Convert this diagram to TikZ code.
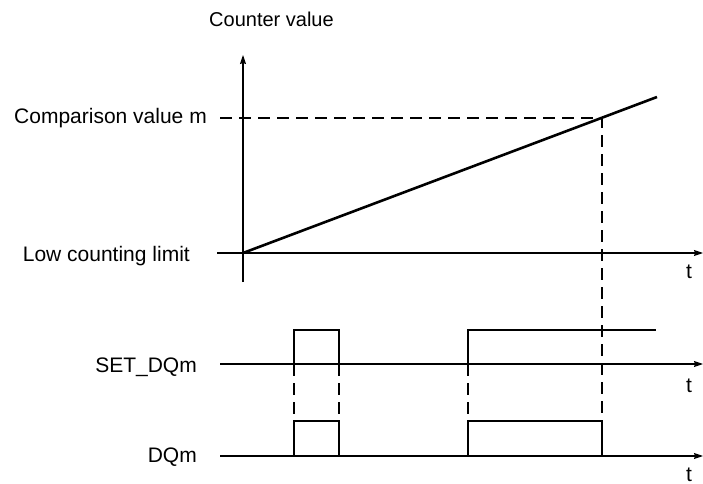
\documentclass[tikz,border=0pt]{standalone}
\usepackage{fontspec}
\setmainfont{Liberation Sans}
\usetikzlibrary{arrows.meta}
\begin{document}
\begin{tikzpicture}[x=1bp,y=-1bp,
  lbl/.style={font=\fontsize{21bp}{25bp}\selectfont, inner sep=0pt},
  axisline/.style={line width=1.1bp, -{Stealth[length=9bp,width=6bp,inset=1bp]}},
  plainline/.style={line width=1.1bp},
  sig/.style={line width=2.6bp, line join=miter},
  guide/.style={line width=1.2bp, dash pattern=on 12bp off 7bp}]
\useasboundingbox (0,0) rectangle (703,484);
% labels
\node[lbl, font=\fontsize{20bp}{24bp}\selectfont, anchor=base] (cv) at (271.5,27) {Counter value};
\node[lbl, anchor=base east] (cmp) at (207,124) {Comparison value m};
\node[lbl, anchor=base east] (low) at (190,262) {Low counting limit};
\node[lbl, anchor=base east] (set) at (197,372) {SET\_DQm};
\node[lbl, anchor=base east] (dq) at (197,462) {DQm};
\node[lbl, anchor=base] (t1) at (689,279) {t};
\node[lbl, anchor=base] (t2) at (689,392) {t};
\node[lbl, anchor=base] (t3) at (689,481) {t};
% coordinates
\coordinate (o) at (243,253);
\coordinate (ytop) at (243,55);
\coordinate (ybot) at (243,282);
\coordinate (xl) at (217,253);
\coordinate (xr) at (703,253);
\coordinate (rend) at (657,97);
\coordinate (m) at (602,118);
\coordinate (mleft) at (220,118);
\coordinate (mdown) at (602,421);
% counter axes
\draw[axisline] (ybot) -- (ytop);
\draw[axisline] (xl) -- (xr);
\draw[guide] (mleft) -- (m) -- (mdown);
\draw[sig] (o) -- (rend);
% SET_DQm
\coordinate (sl) at (220,364);
\coordinate (sr) at (703,364);
\draw[axisline] (sl) -- (sr);
\draw[sig] (243,364) -- (294,364) -- (294,330) -- (339,330) -- (339,364) -- (468,364) -- (468,330) -- (656,330);
% DQm
\coordinate (dl) at (220,456);
\coordinate (dr) at (703,456);
\draw[axisline] (dl) -- (dr);
\draw[sig] (243,456) -- (294,456) -- (294,421) -- (339,421) -- (339,456) -- (468,456) -- (468,421) -- (602,421) -- (602,456) -- (656,456);
% guides between signals
\draw[guide] (294,364) -- (294,421);
\draw[guide] (339,364) -- (339,421);
\draw[guide] (468,364) -- (468,421);
\end{tikzpicture}
\end{document}
